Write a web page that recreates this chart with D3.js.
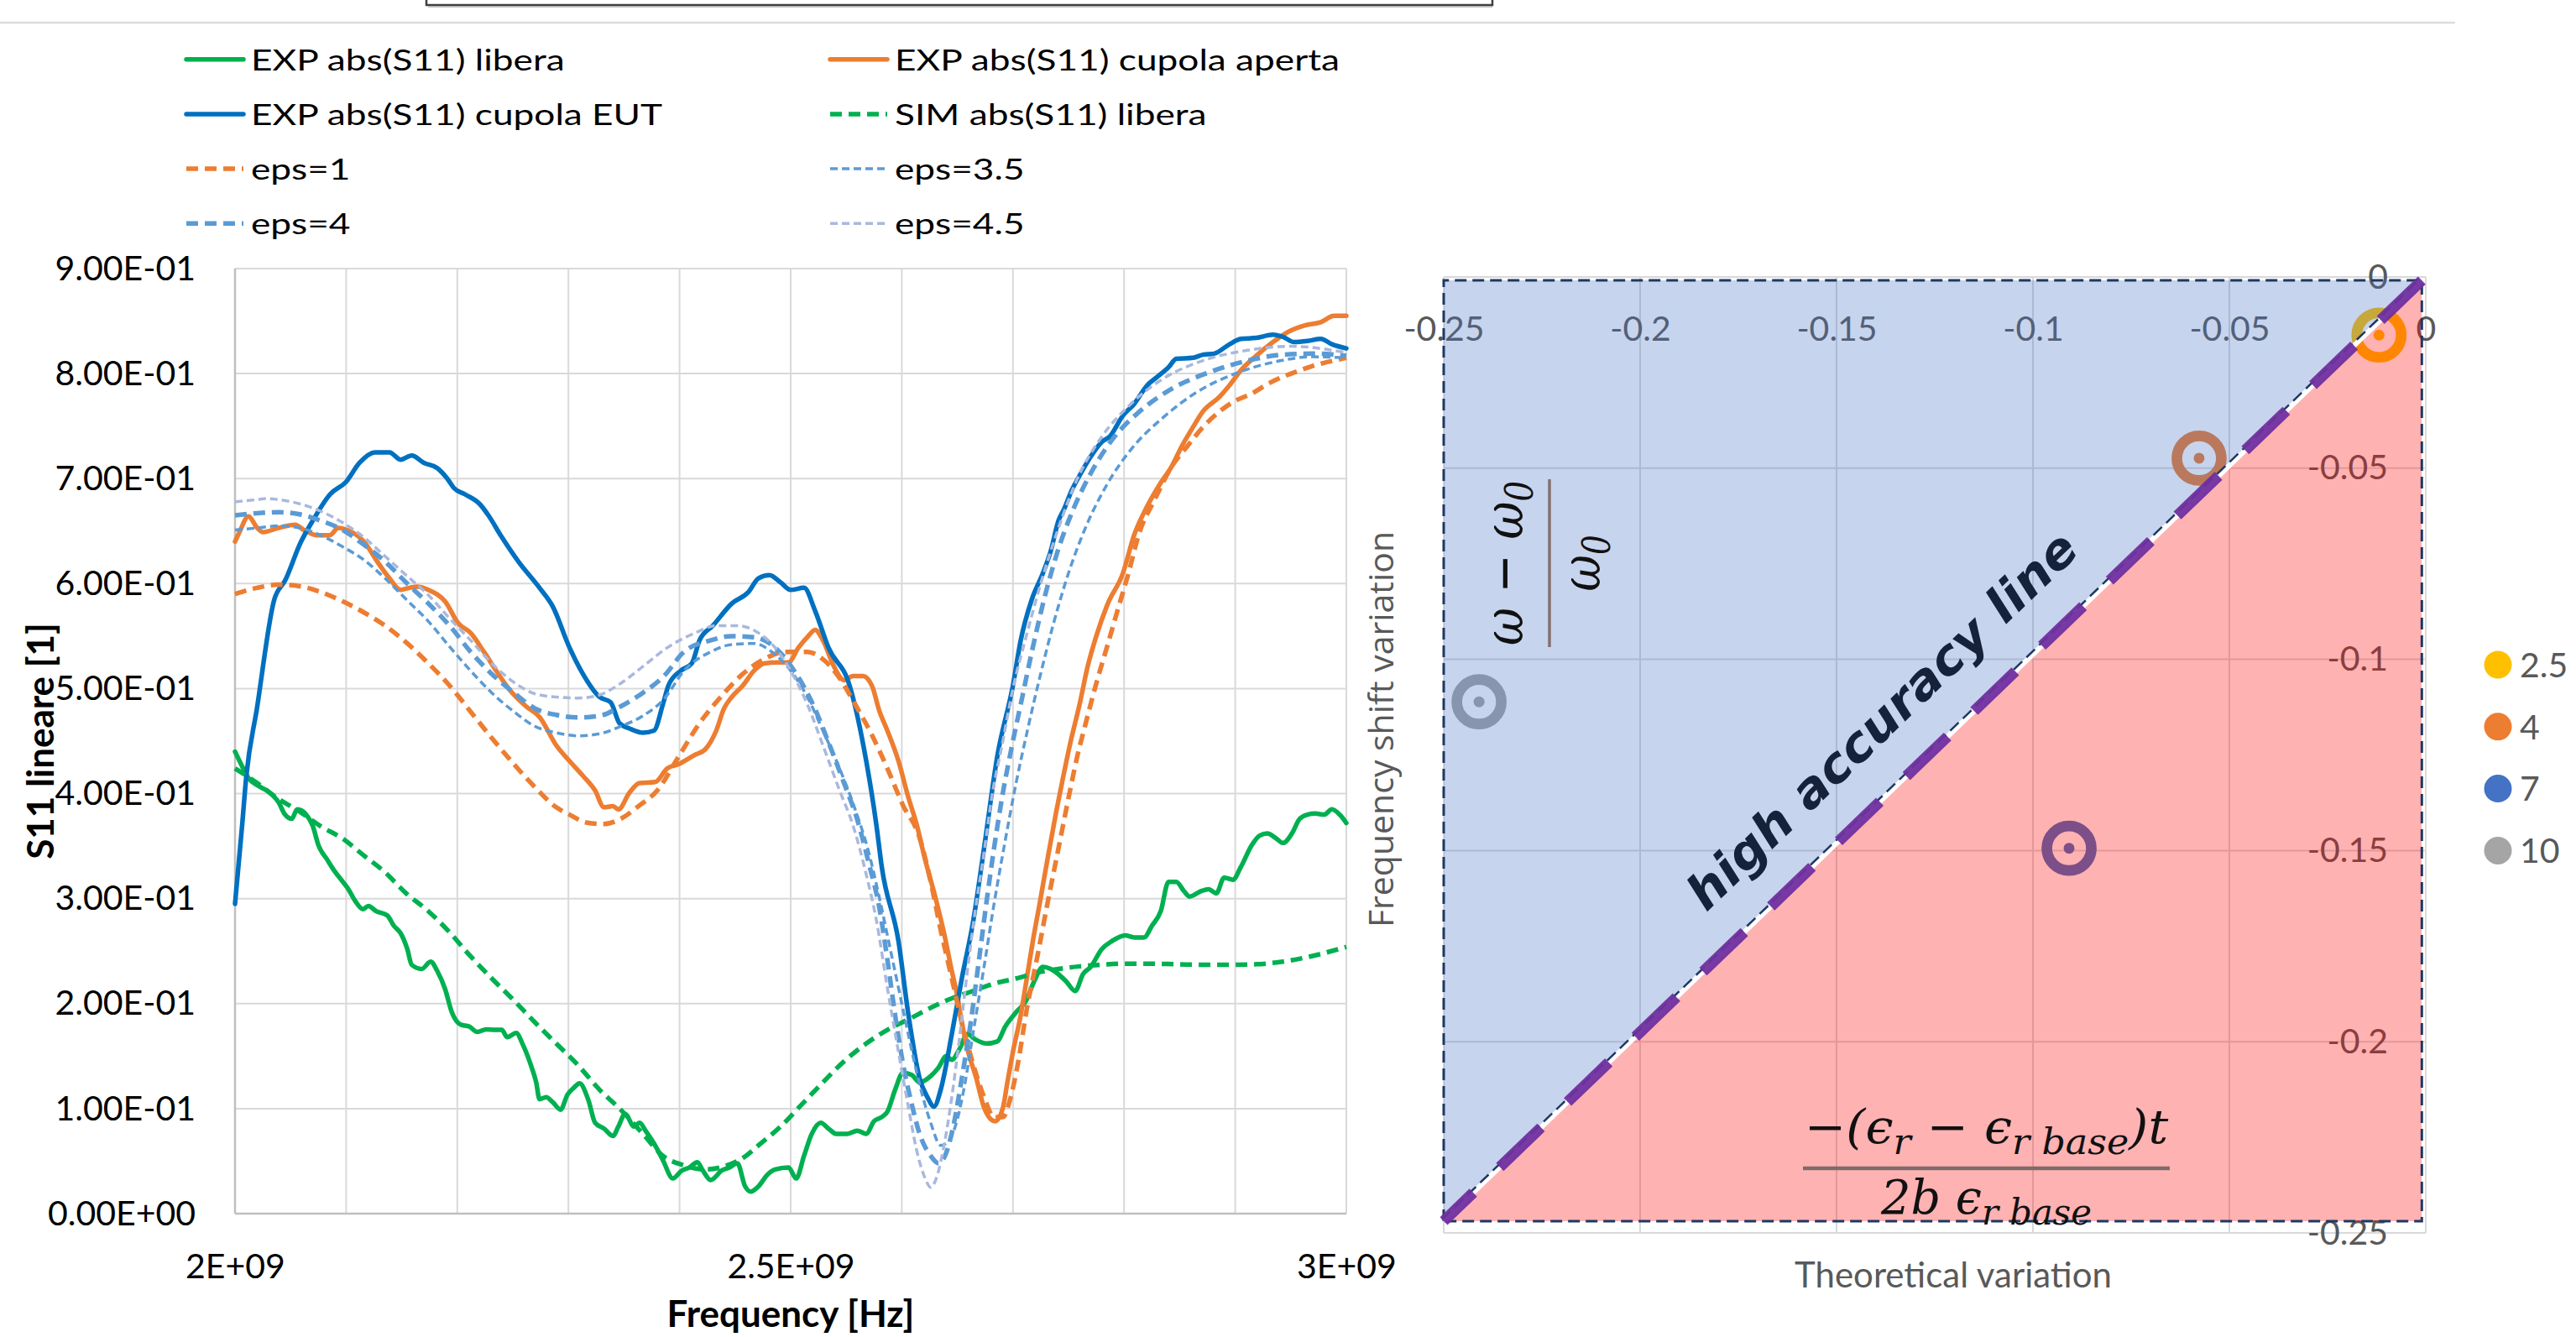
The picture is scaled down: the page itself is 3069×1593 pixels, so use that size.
<!DOCTYPE html>
<meta charset="utf-8">
<script src="https://d3js.org/d3.v7.min.js"></script>
<style>
  body { margin: 0; background: #fff; }
  svg { display: block; }
</style>
<body>
<div id="chart"></div>
<script>
// ---------- left chart data: [frequency GHz, |S11| linear] ----------
const expLibera = [[2.000,0.440],[2.005,0.429],[2.012,0.415],[2.020,0.408],[2.029,0.4025],[2.039,0.392],[2.045,0.380],[2.051,0.376],[2.056,0.385],[2.064,0.380],[2.070,0.369],[2.075,0.351],[2.083,0.337],[2.089,0.327],[2.097,0.316],[2.102,0.309],[2.108,0.298],[2.115,0.290],[2.120,0.293],[2.127,0.288],[2.137,0.284],[2.143,0.274],[2.149,0.267],[2.155,0.252],[2.159,0.237],[2.168,0.233],[2.176,0.240],[2.182,0.231],[2.189,0.214],[2.195,0.192],[2.203,0.180],[2.211,0.178],[2.218,0.173],[2.226,0.1755],[2.234,0.175],[2.240,0.175],[2.245,0.168],[2.253,0.172],[2.259,0.161],[2.267,0.139],[2.271,0.125],[2.274,0.109],[2.280,0.111],[2.286,0.106],[2.293,0.099],[2.299,0.113],[2.305,0.120],[2.310,0.124],[2.318,0.108],[2.324,0.0865],[2.332,0.081],[2.340,0.074],[2.345,0.083],[2.351,0.095],[2.359,0.083],[2.364,0.0865],[2.370,0.078],[2.378,0.065],[2.385,0.051],[2.394,0.0335],[2.402,0.041],[2.409,0.044],[2.416,0.049],[2.421,0.041],[2.428,0.032],[2.438,0.041],[2.445,0.044],[2.452,0.048],[2.459,0.026],[2.464,0.021],[2.471,0.026],[2.479,0.037],[2.486,0.042],[2.498,0.044],[2.505,0.0335],[2.512,0.055],[2.519,0.076],[2.527,0.0865],[2.534,0.081],[2.541,0.076],[2.551,0.076],[2.560,0.079],[2.568,0.076],[2.575,0.088],[2.582,0.092],[2.587,0.097],[2.594,0.118],[2.601,0.134],[2.609,0.132],[2.616,0.125],[2.626,0.131],[2.633,0.139],[2.640,0.150],[2.645,0.1465],[2.652,0.157],[2.659,0.171],[2.666,0.166],[2.676,0.162],[2.686,0.164],[2.693,0.178],[2.703,0.192],[2.712,0.203],[2.719,0.221],[2.727,0.235],[2.734,0.233],[2.741,0.228],[2.748,0.221],[2.756,0.212],[2.763,0.228],[2.770,0.235],[2.780,0.252],[2.789,0.2595],[2.801,0.265],[2.809,0.263],[2.818,0.263],[2.825,0.274],[2.833,0.288],[2.840,0.316],[2.847,0.316],[2.854,0.307],[2.859,0.302],[2.869,0.307],[2.876,0.309],[2.883,0.305],[2.890,0.320],[2.898,0.318],[2.905,0.330],[2.915,0.351],[2.922,0.360],[2.929,0.362],[2.936,0.358],[2.943,0.353],[2.951,0.362],[2.958,0.376],[2.965,0.380],[2.972,0.381],[2.980,0.380],[2.987,0.385],[2.994,0.380],[3.000,0.372]];

const expAperta = [[2.000,0.640],[2.004,0.649],[2.012,0.664],[2.020,0.653],[2.025,0.649],[2.039,0.653],[2.054,0.656],[2.062,0.651],[2.074,0.646],[2.085,0.646],[2.093,0.653],[2.101,0.651],[2.116,0.640],[2.128,0.621],[2.139,0.605],[2.149,0.594],[2.157,0.596],[2.164,0.597],[2.174,0.594],[2.189,0.583],[2.201,0.562],[2.212,0.553],[2.224,0.535],[2.235,0.517],[2.247,0.499],[2.262,0.483],[2.274,0.473],[2.289,0.446],[2.301,0.431],[2.313,0.417],[2.324,0.403],[2.332,0.387],[2.340,0.388],[2.345,0.385],[2.355,0.401],[2.364,0.410],[2.378,0.411],[2.389,0.424],[2.399,0.428],[2.414,0.437],[2.423,0.442],[2.433,0.460],[2.440,0.481],[2.447,0.492],[2.457,0.503],[2.467,0.517],[2.476,0.524],[2.488,0.525],[2.498,0.525],[2.507,0.539],[2.515,0.549],[2.522,0.556],[2.529,0.546],[2.539,0.521],[2.548,0.508],[2.556,0.512],[2.565,0.512],[2.573,0.503],[2.580,0.478],[2.587,0.460],[2.597,0.431],[2.606,0.396],[2.613,0.372],[2.621,0.337],[2.630,0.302],[2.638,0.267],[2.645,0.231],[2.650,0.207],[2.654,0.182],[2.659,0.157],[2.667,0.129],[2.674,0.101],[2.680,0.090],[2.684,0.088],[2.691,0.101],[2.695,0.125],[2.700,0.154],[2.707,0.189],[2.712,0.221],[2.718,0.260],[2.724,0.295],[2.731,0.337],[2.739,0.383],[2.746,0.420],[2.752,0.450],[2.760,0.485],[2.767,0.520],[2.775,0.550],[2.785,0.580],[2.799,0.610],[2.809,0.646],[2.821,0.674],[2.833,0.696],[2.842,0.710],[2.852,0.731],[2.862,0.749],[2.871,0.764],[2.886,0.778],[2.895,0.789],[2.905,0.803],[2.919,0.817],[2.934,0.830],[2.948,0.840],[2.963,0.846],[2.977,0.849],[2.989,0.855],[3.000,0.855]];

const expEUT = [[2.000,0.295],[2.0065,0.371],[2.010,0.415],[2.0197,0.481],[2.0354,0.585],[2.0451,0.603],[2.059,0.639],[2.070,0.660],[2.0855,0.685],[2.100,0.697],[2.112,0.715],[2.126,0.725],[2.139,0.725],[2.149,0.718],[2.159,0.722],[2.170,0.715],[2.182,0.710],[2.191,0.700],[2.197,0.691],[2.207,0.685],[2.220,0.676],[2.228,0.665],[2.239,0.646],[2.255,0.621],[2.274,0.596],[2.286,0.578],[2.301,0.539],[2.313,0.514],[2.328,0.492],[2.338,0.487],[2.346,0.467],[2.355,0.462],[2.367,0.458],[2.377,0.460],[2.385,0.485],[2.390,0.503],[2.401,0.517],[2.411,0.524],[2.418,0.546],[2.430,0.560],[2.447,0.581],[2.462,0.592],[2.471,0.605],[2.481,0.608],[2.491,0.601],[2.500,0.594],[2.512,0.596],[2.522,0.574],[2.534,0.539],[2.553,0.503],[2.568,0.431],[2.577,0.371],[2.582,0.330],[2.597,0.2595],[2.606,0.189],[2.616,0.129],[2.623,0.111],[2.629,0.102],[2.635,0.118],[2.645,0.171],[2.654,0.224],[2.664,0.277],[2.674,0.348],[2.686,0.436],[2.700,0.503],[2.707,0.546],[2.717,0.585],[2.727,0.610],[2.734,0.631],[2.741,0.660],[2.746,0.671],[2.753,0.689],[2.760,0.703],[2.770,0.721],[2.780,0.735],[2.787,0.740],[2.799,0.760],[2.809,0.771],[2.821,0.789],[2.830,0.797],[2.840,0.806],[2.847,0.814],[2.862,0.815],[2.871,0.818],[2.881,0.819],[2.895,0.828],[2.905,0.833],[2.919,0.834],[2.934,0.837],[2.943,0.835],[2.953,0.830],[2.965,0.831],[2.977,0.833],[2.987,0.828],[3.000,0.824]];

const simLibera = [[2.000,0.424],[2.020,0.410],[2.039,0.395],[2.058,0.383],[2.077,0.369],[2.097,0.357],[2.116,0.341],[2.135,0.325],[2.154,0.305],[2.174,0.288],[2.193,0.268],[2.212,0.245],[2.231,0.224],[2.251,0.203],[2.270,0.182],[2.289,0.162],[2.309,0.141],[2.328,0.118],[2.347,0.099],[2.367,0.076],[2.385,0.055],[2.404,0.046],[2.423,0.042],[2.443,0.046],[2.457,0.053],[2.471,0.065],[2.491,0.083],[2.510,0.104],[2.529,0.125],[2.548,0.145],[2.568,0.162],[2.587,0.175],[2.606,0.185],[2.626,0.196],[2.645,0.205],[2.664,0.212],[2.683,0.219],[2.703,0.224],[2.722,0.2295],[2.741,0.233],[2.760,0.2355],[2.780,0.237],[2.799,0.238],[2.823,0.238],[2.847,0.2375],[2.871,0.237],[2.895,0.237],[2.919,0.2375],[2.943,0.240],[2.968,0.245],[3.000,0.254]];

const eps1 = [[2.000,0.590],[2.020,0.596],[2.039,0.599],[2.058,0.5975],[2.077,0.592],[2.097,0.583],[2.116,0.5725],[2.135,0.560],[2.154,0.544],[2.174,0.524],[2.193,0.503],[2.212,0.478],[2.231,0.453],[2.251,0.428],[2.270,0.406],[2.289,0.387],[2.301,0.380],[2.316,0.3725],[2.332,0.371],[2.347,0.376],[2.363,0.388],[2.380,0.403],[2.399,0.435],[2.418,0.467],[2.437,0.492],[2.457,0.514],[2.476,0.528],[2.495,0.535],[2.515,0.535],[2.529,0.528],[2.544,0.510],[2.558,0.485],[2.573,0.456],[2.587,0.424],[2.601,0.389],[2.616,0.358],[2.626,0.316],[2.635,0.270],[2.645,0.224],[2.654,0.182],[2.664,0.143],[2.674,0.111],[2.683,0.092],[2.691,0.092],[2.698,0.111],[2.705,0.146],[2.712,0.192],[2.722,0.245],[2.731,0.295],[2.741,0.348],[2.751,0.401],[2.758,0.436],[2.765,0.465],[2.775,0.505],[2.785,0.541],[2.794,0.574],[2.804,0.610],[2.813,0.646],[2.828,0.681],[2.842,0.710],[2.857,0.731],[2.871,0.749],[2.886,0.764],[2.900,0.774],[2.915,0.781],[2.929,0.790],[2.943,0.797],[2.958,0.803],[2.972,0.808],[2.987,0.812],[3.000,0.815]];

const eps35 = [[2.000,0.651],[2.020,0.653],[2.039,0.655],[2.058,0.653],[2.077,0.646],[2.097,0.635],[2.116,0.6225],[2.135,0.605],[2.154,0.585],[2.174,0.564],[2.193,0.540],[2.212,0.517],[2.231,0.496],[2.251,0.478],[2.270,0.464],[2.289,0.458],[2.309,0.455],[2.328,0.457],[2.347,0.464],[2.367,0.474],[2.386,0.490],[2.404,0.517],[2.428,0.535],[2.447,0.542],[2.467,0.543],[2.483,0.535],[2.500,0.517],[2.515,0.492],[2.529,0.460],[2.544,0.424],[2.558,0.385],[2.570,0.345],[2.580,0.300],[2.589,0.255],[2.597,0.215],[2.606,0.170],[2.616,0.123],[2.626,0.0865],[2.635,0.065],[2.642,0.069],[2.650,0.090],[2.657,0.125],[2.664,0.171],[2.674,0.235],[2.683,0.295],[2.693,0.355],[2.703,0.411],[2.713,0.460],[2.724,0.510],[2.736,0.560],[2.750,0.610],[2.766,0.655],[2.785,0.695],[2.808,0.730],[2.835,0.758],[2.865,0.782],[2.900,0.800],[2.935,0.811],[2.970,0.816],[3.000,0.815]];

const eps4 = [[2.000,0.665],[2.020,0.667],[2.039,0.668],[2.058,0.666],[2.077,0.660],[2.097,0.651],[2.116,0.637],[2.135,0.621],[2.154,0.601],[2.174,0.581],[2.193,0.560],[2.212,0.535],[2.231,0.514],[2.251,0.496],[2.270,0.481],[2.289,0.475],[2.309,0.4725],[2.328,0.474],[2.347,0.483],[2.367,0.496],[2.386,0.512],[2.404,0.535],[2.428,0.546],[2.447,0.550],[2.467,0.549],[2.486,0.539],[2.505,0.514],[2.520,0.485],[2.534,0.449],[2.548,0.410],[2.560,0.375],[2.570,0.335],[2.580,0.290],[2.587,0.242],[2.594,0.189],[2.601,0.143],[2.609,0.104],[2.616,0.076],[2.626,0.055],[2.633,0.048],[2.640,0.058],[2.647,0.0865],[2.654,0.129],[2.662,0.182],[2.669,0.238],[2.676,0.295],[2.683,0.348],[2.691,0.401],[2.699,0.445],[2.708,0.490],[2.717,0.535],[2.728,0.585],[2.740,0.630],[2.754,0.670],[2.770,0.705],[2.790,0.738],[2.813,0.763],[2.842,0.785],[2.876,0.801],[2.910,0.812],[2.943,0.818],[2.970,0.819],[3.000,0.817]];

const eps45 = [[2.000,0.678],[2.020,0.680],[2.028,0.681],[2.039,0.680],[2.058,0.676],[2.077,0.669],[2.097,0.658],[2.116,0.644],[2.135,0.626],[2.154,0.608],[2.174,0.589],[2.193,0.567],[2.212,0.546],[2.231,0.524],[2.251,0.506],[2.270,0.495],[2.289,0.492],[2.309,0.491],[2.328,0.494],[2.347,0.505],[2.367,0.521],[2.389,0.539],[2.414,0.553],[2.433,0.560],[2.452,0.560],[2.471,0.553],[2.486,0.539],[2.500,0.517],[2.515,0.485],[2.529,0.446],[2.544,0.403],[2.556,0.370],[2.568,0.323],[2.577,0.280],[2.587,0.215],[2.597,0.154],[2.606,0.101],[2.613,0.062],[2.621,0.0335],[2.626,0.025],[2.631,0.0335],[2.638,0.065],[2.645,0.111],[2.652,0.168],[2.659,0.231],[2.666,0.288],[2.674,0.344],[2.681,0.397],[2.690,0.445],[2.700,0.500],[2.712,0.550],[2.725,0.600],[2.740,0.650],[2.758,0.700],[2.780,0.740],[2.805,0.770],[2.835,0.795],[2.870,0.812],[2.910,0.822],[2.950,0.826],[3.000,0.820]];

const seriesNames = ["EXP abs(S11) libera", "EXP abs(S11) cupola aperta", "EXP abs(S11) cupola EUT",
  "SIM abs(S11) libera", "eps=1", "eps=3.5", "eps=4", "eps=4.5"];
const yTickValues = [0, 0.1, 0.2, 0.3, 0.4, 0.5, 0.6, 0.7, 0.8, 0.9];
const xLabelValues = [2e9, 2.5e9, 3e9];

// ---------- right chart data ----------
const epsNames = ["2.5", "4", "7", "10"];
const theoVar = [-0.0119, -0.0577, -0.0908, -0.241];
const freqShift = [-0.0152, -0.0474, -0.1494, -0.1111];
const rTicks = [-0.25, -0.2, -0.15, -0.1, -0.05, 0];
// corners of the drawn accuracy shape (data units)
const boxX = [-0.25, -0.001];
const boxY = [-0.2469, -0.0009];

// styles per series (same order as seriesNames)
const seriesData = [expLibera, expAperta, expEUT, simLibera, eps1, eps35, eps4, eps45];
const seriesStyle = [
  {c: "#00B050", w: 5.5, d: null},
  {c: "#ED7D31", w: 5.5, d: null},
  {c: "#0070C0", w: 5.5, d: null},
  {c: "#00B050", w: 5.5, d: "14,8"},
  {c: "#ED7D31", w: 5.5, d: "14,8"},
  {c: "#5B9BD5", w: 3.5, d: "9,5"},
  {c: "#5B9BD5", w: 5.5, d: "14,8"},
  {c: "#A9B8DD", w: 3.5, d: "9,5"}
];
const markerColors = ["#FFC000", "#ED7D31", "#4472C4", "#A5A5A5"];

const W = 3069, H = 1593;
const svg = d3.select("#chart").append("svg").attr("width", W).attr("height", H);

// top decorations (edge of a box and a separator)
svg.append("path").attr("d", "M508,0V6H1778V0").attr("fill", "none").attr("stroke", "#3f3f3f").attr("stroke-width", 2.5);
svg.append("line").attr("x1", 510).attr("x2", 1778).attr("y1", 8).attr("y2", 8).attr("stroke", "#b0b0b0").attr("stroke-width", 1.5);
svg.append("line").attr("x1", 0).attr("x2", 2925).attr("y1", 27).attr("y2", 27).attr("stroke", "#dcdcdc").attr("stroke-width", 2.5);

// ================= LEFT CHART =================
const x = d3.scaleLinear().domain([2e9, 3e9]).range([280, 1604]);
const y = d3.scaleLinear().domain([0, 0.9]).range([1446, 320]);

const fmtE = (v, digits) => {
  const s = digits == null ? v.toExponential() : v.toExponential(digits);
  const [m, e] = s.split("e");
  const n = +e;
  return m + "E" + (n < 0 ? "-" : "+") + String(Math.abs(n)).padStart(2, "0");
};

const left = svg.append("g");
// grid
left.append("g").selectAll("line").data(d3.range(0, 11).map(i => 2e9 + i * 1e8)).join("line")
  .attr("x1", d => x(d)).attr("x2", d => x(d)).attr("y1", y(0.9)).attr("y2", y(0))
  .attr("stroke", "#d9d9d9").attr("stroke-width", 2);
left.append("g").selectAll("line").data(yTickValues).join("line")
  .attr("x1", x(2e9)).attr("x2", x(3e9)).attr("y1", d => y(d)).attr("y2", d => y(d))
  .attr("stroke", "#d9d9d9").attr("stroke-width", 2);
left.append("line").attr("x1", x(2e9)).attr("x2", x(3e9)).attr("y1", y(0)).attr("y2", y(0))
  .attr("stroke", "#bfbfbf").attr("stroke-width", 2.5);
left.append("line").attr("x1", x(2e9)).attr("x2", x(2e9)).attr("y1", y(0)).attr("y2", y(0.9))
  .attr("stroke", "#bfbfbf").attr("stroke-width", 2.5);

// axes labels
const yAxis = left.append("g").attr("transform", `translate(${x(2e9)},0)`)
  .call(d3.axisLeft(y).tickValues(yTickValues).tickFormat(d => fmtE(d, 2)).tickSize(0).tickPadding(47));
const xAxis = left.append("g").attr("transform", `translate(0,${y(0)})`)
  .call(d3.axisBottom(x).tickValues(xLabelValues).tickFormat(d => fmtE(d)).tickSize(0).tickPadding(48));
[yAxis, xAxis].forEach(a => {
  a.select(".domain").remove();
  a.selectAll("text").attr("font-family", "Lato").attr("font-size", 41).attr("fill", "#000");
});

left.append("text").attr("transform", `translate(64,${(y(0) + y(0.9)) / 2}) rotate(-90)`)
  .attr("text-anchor", "middle").attr("font-family", "Lato").attr("font-weight", 700)
  .attr("font-size", 44).text("S11 lineare [1]");
left.append("text").attr("x", (x(2e9) + x(3e9)) / 2).attr("y", 1581)
  .attr("text-anchor", "middle").attr("font-family", "Lato").attr("font-weight", 700)
  .attr("font-size", 44).text("Frequency [Hz]");

// series
const line = d3.line().x(d => x(d[0] * 1e9)).y(d => y(d[1])).curve(d3.curveMonotoneX);
seriesData.forEach((s, i) => {
  const st = seriesStyle[i];
  left.append("path").datum(s).attr("d", line)
    .attr("fill", "none").attr("stroke", st.c).attr("stroke-width", st.w)
    .attr("stroke-linejoin", "round").attr("stroke-linecap", st.d ? "butt" : "round")
    .attr("stroke-dasharray", st.d);
});

// legend (two columns)
const leg = left.append("g");
seriesNames.forEach((name, i) => {
  const row = Math.floor(i / 2), col = i % 2;
  const ly = 70.7 + row * 65.2;
  const lx = [220, 987][col];
  const st = seriesStyle[i];
  leg.append("line").attr("x1", lx + 2).attr("x2", lx + 70).attr("y1", ly).attr("y2", ly)
    .attr("stroke", st.c).attr("stroke-width", st.w)
    .attr("stroke-linecap", st.d ? "butt" : "round").attr("stroke-dasharray", st.d);
  leg.append("text").attr("transform", `translate(${lx + 79},${ly + 13}) scale(1.3,1)`)
    .attr("font-family", "Lato").attr("font-size", 34).attr("fill", "#000").text(name);
});

// ================= RIGHT CHART =================
const xr = d3.scaleLinear().domain([-0.25, 0]).range([1720, 2890]);
const yr = d3.scaleLinear().domain([-0.25, 0]).range([1469, 330]);
const fmtR = d => Math.abs(d) < 1e-9 ? "0" : String(+d.toFixed(2));

const right = svg.append("g");
right.append("g").selectAll("line").data(rTicks).join("line")
  .attr("x1", d => xr(d)).attr("x2", d => xr(d)).attr("y1", yr(0)).attr("y2", yr(-0.25))
  .attr("stroke", "#d9d9d9").attr("stroke-width", 2);
right.append("g").selectAll("line").data(rTicks).join("line")
  .attr("x1", xr(-0.25)).attr("x2", xr(0)).attr("y1", d => yr(d)).attr("y2", d => yr(d))
  .attr("stroke", "#d9d9d9").attr("stroke-width", 2);

const xrAxis = right.append("g").attr("transform", `translate(0,${yr(0)})`)
  .call(d3.axisBottom(xr).tickValues(rTicks).tickFormat(fmtR).tickSize(0).tickPadding(47));
const yrAxis = right.append("g").attr("transform", `translate(${xr(0)},0)`)
  .call(d3.axisLeft(yr).tickValues(rTicks).tickFormat(fmtR).tickSize(0).tickPadding(45));
[xrAxis, yrAxis].forEach(a => {
  a.select(".domain").remove();
  a.selectAll("text").attr("font-family", "Lato").attr("font-size", 41).attr("fill", "#595959");
});

// markers (rings with centre dot)
const mk = right.append("g").selectAll("g").data(epsNames).join("g")
  .attr("transform", (d, i) => `translate(${xr(theoVar[i])},${yr(freqShift[i])})`);
mk.append("circle").attr("r", 26.5).attr("fill", "none")
  .attr("stroke", (d, i) => markerColors[i]).attr("stroke-width", 12.7);
mk.append("circle").attr("r", 6.5).attr("fill", (d, i) => markerColors[i]);

// translucent regions
const P = {
  ll: [xr(boxX[0]), yr(boxY[0])], ul: [xr(boxX[0]), yr(boxY[1])],
  ur: [xr(boxX[1]), yr(boxY[1])], lr: [xr(boxX[1]), yr(boxY[0])]
};
const poly = pts => "M" + pts.map(p => p.join(",")).join("L") + "Z";
right.append("path").attr("d", poly([P.ll, P.ul, P.ur])).attr("fill", "rgba(68,114,196,0.3)");
right.append("path").attr("d", poly([P.ll, P.ur, P.lr])).attr("fill", "rgba(255,0,0,0.3)");
right.append("path").attr("d", poly([P.ll, P.ul, P.ur, P.lr]))
  .attr("fill", "none").attr("stroke", "#1f3864").attr("stroke-width", 3).attr("stroke-dasharray", "14,7");
// diagonal
right.append("line").attr("x1", P.ll[0]).attr("y1", P.ll[1]).attr("x2", P.ur[0]).attr("y2", P.ur[1])
  .attr("stroke", "#fff").attr("stroke-width", 6);
right.append("line").attr("x1", P.ll[0] - 2).attr("y1", P.ll[1] - 2).attr("x2", P.ur[0] - 2).attr("y2", P.ur[1] - 2)
  .attr("stroke", "#1f3864").attr("stroke-width", 2.5).attr("stroke-dasharray", "14,7");
right.append("line").attr("x1", P.ur[0]).attr("y1", P.ur[1]).attr("x2", P.ll[0]).attr("y2", P.ll[1])
  .attr("stroke", "#7030A0").attr("stroke-width", 13).attr("stroke-dasharray", "68,44").attr("opacity", 0.95);

// "high accuracy line"
const ang = Math.atan2(P.ur[1] - P.ll[1], P.ur[0] - P.ll[0]);
const len = Math.hypot(P.ur[0] - P.ll[0], P.ur[1] - P.ll[1]);
const tpos = 0.4885, off = 48;
const ux = Math.cos(ang), uy = Math.sin(ang);
const hx = P.ll[0] + ux * len * tpos + uy * off, hy = P.ll[1] + uy * len * tpos - ux * off;
const hal = right.append("text")
  .attr("transform", `translate(${hx},${hy}) rotate(${ang * 180 / Math.PI})`)
  .attr("text-anchor", "middle").attr("font-family", "DejaVu Sans").attr("font-weight", 700)
  .attr("font-style", "italic").attr("font-size", 58).attr("fill", "#16213a").text("high accuracy line");

// fraction (ω − ω0)/ω0, rotated
const fr = right.append("g").attr("transform", "translate(1846,671) rotate(-90)");
fr.append("line").attr("x1", -100).attr("x2", 100).attr("y1", 0).attr("y2", 0)
  .attr("stroke", "#857070").attr("stroke-width", 3.5);
const num1 = fr.append("text").attr("x", 0).attr("y", -32).attr("text-anchor", "middle")
  .attr("font-family", "DejaVu Serif").attr("font-style", "italic").attr("font-size", 66).attr("fill", "#111");
num1.append("tspan").text("ω − ω");
num1.append("tspan").attr("font-size", 46).attr("dy", 12).text("0");
const den1 = fr.append("text").attr("x", 0).attr("y", 60).attr("text-anchor", "middle")
  .attr("font-family", "DejaVu Serif").attr("font-style", "italic").attr("font-size", 66).attr("fill", "#111");
den1.append("tspan").text("ω");
den1.append("tspan").attr("font-size", 46).attr("dy", 12).text("0");

// fraction −(ϵr − ϵr base)t / 2b ϵr base
const fcx = 2366.5;
right.append("line").attr("x1", 2148).attr("x2", 2585).attr("y1", 1392).attr("y2", 1392)
  .attr("stroke", "#7d6b6b").attr("stroke-width", 4.5);
const num2 = right.append("text").attr("x", fcx).attr("y", 1362).attr("text-anchor", "middle")
  .attr("font-family", "DejaVu Serif").attr("font-style", "italic").attr("font-size", 56).attr("fill", "#111");
num2.append("tspan").text("−(ϵ");
num2.append("tspan").attr("font-size", 42).attr("dy", 13).text("r");
num2.append("tspan").attr("dy", -13).text(" − ϵ");
num2.append("tspan").attr("font-size", 42).attr("dy", 13).text("r base");
num2.append("tspan").attr("dy", -13).text(")t");
const den2 = right.append("text").attr("x", fcx).attr("y", 1446).attr("text-anchor", "middle")
  .attr("font-family", "DejaVu Serif").attr("font-style", "italic").attr("font-size", 56).attr("fill", "#111");
den2.append("tspan").text("2b ϵ");
den2.append("tspan").attr("font-size", 42).attr("dy", 13).text("r base");

// stretch text horizontally to a target width (in its own frame)
function fitX(sel, cx, target) {
  const w = sel.node().getBBox().width;
  const s = target / w;
  const t0 = sel.attr("transform") || "";
  sel.attr("transform", `${t0} translate(${cx},0) scale(${s},1) translate(${-cx},0)`);
}
fitX(num2, fcx, 434);
fitX(den2, fcx, 252);
fitX(num1, 0, 196);
fitX(den1, 0, 67);
{
  const w = hal.node().getBBox().width;
  hal.attr("transform", hal.attr("transform") + ` scale(${620 / w},1)`);
}

// axis titles
right.append("text").attr("transform", "translate(1660,869) rotate(-90)").attr("text-anchor", "middle")
  .attr("font-family", "Open Sans").attr("font-size", 41).attr("fill", "#595959").text("Frequency shift variation");
right.append("text").attr("x", 2327).attr("y", 1534).attr("text-anchor", "middle")
  .attr("font-family", "Lato").attr("font-size", 42).attr("fill", "#595959").text("Theoretical variation");

// right legend
const rl = right.append("g").selectAll("g").data(epsNames).join("g")
  .attr("transform", (d, i) => `translate(2976,${792 + i * 73.8})`);
rl.append("circle").attr("r", 16.5).attr("fill", (d, i) => markerColors[i]);
rl.append("text").attr("x", 26).attr("dy", "0.36em").attr("font-family", "Lato").attr("font-size", 41)
  .attr("fill", "#595959").text(d => d);
</script>
</body>
